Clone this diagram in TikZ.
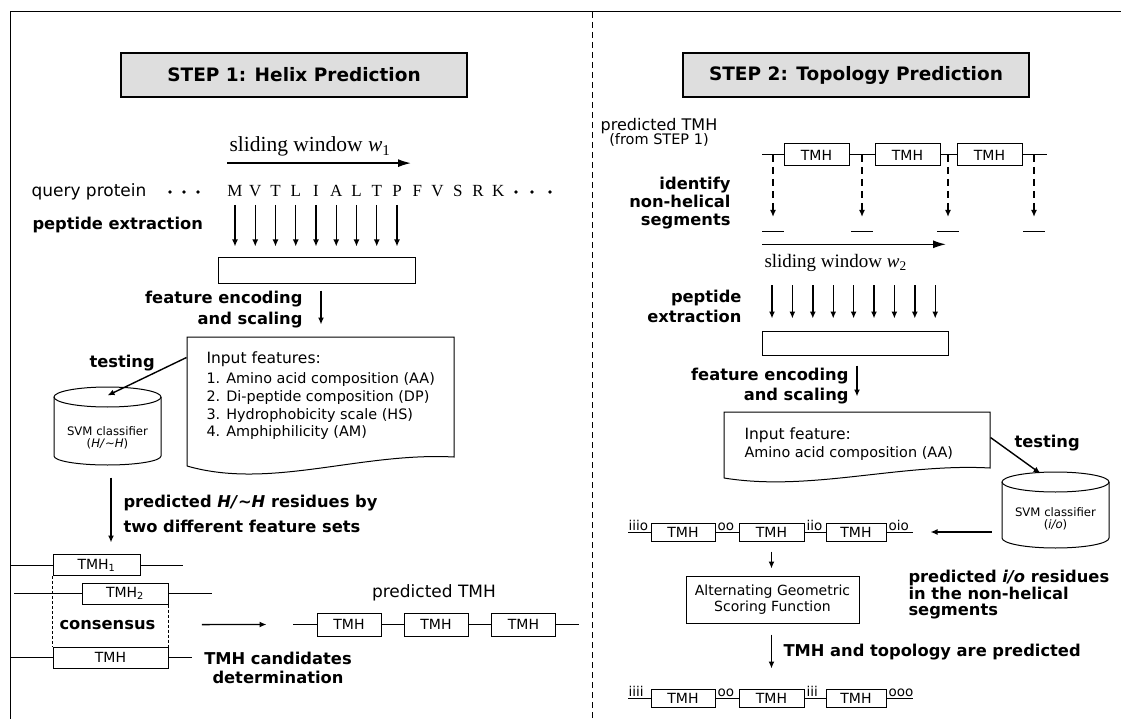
\documentclass[tikz,border=0pt]{standalone}
\usepackage{fontspec}
\setmainfont{DejaVu Sans}
\newfontfamily\seriffont{Liberation Serif}
\usetikzlibrary{arrows.meta,positioning}
\definecolor{stepgray}{RGB}{222,222,222}

\begin{document}
\begin{tikzpicture}[x=1pt, y=-1pt, line width=1pt,
    stepbox/.style={draw, line width=1.3pt, fill=stepgray, minimum width=346pt, minimum height=44pt, font=\fontsize{18.5}{20}\selectfont\bfseries},
    boldlbl/.style={font=\fontsize{16.3}{19}\selectfont\bfseries, inner sep=0pt},
    plaintxt/.style={font=\fontsize{15.5}{18}\selectfont, inner sep=0pt},
    smalltxt/.style={font=\fontsize{14.4}{17.8}\selectfont, inner sep=0pt},
    seqtxt/.style={font=\seriffont\fontsize{17}{18}\selectfont, inner sep=0pt},
    svmtxt/.style={font=\fontsize{11.7}{12.5}\selectfont, align=center, inner sep=0pt},
    iolbl/.style={font=\fontsize{13.5}{14}\selectfont, inner sep=0pt, anchor=base west},
    tmh/.style={draw, minimum height=21pt, inner sep=0pt, font=\fontsize{14}{14}\selectfont},
    arrow/.style={-{Latex[length=7pt,width=6pt]}, line width=1.4pt},
    winarrow/.style={-{Latex[length=13pt,width=8pt]}, line width=1.4pt},
    dasharrow/.style={arrow, dash pattern=on 7pt off 5pt}
]
    \useasboundingbox (0,0) rectangle (1121,719);

    % Frame and divider
    \draw (10,719) -- (10,12) -- (1121,12);
    \draw[dash pattern=on 6pt off 4pt] (592,12) -- (592,719);

    % ----- STEP 1 -----
    \node[stepbox] (step1) at (294,75) {STEP 1: Helix Prediction};

    % Sliding window and query sequence
    \node[seqtxt, font=\seriffont\fontsize{21.5}{22}\selectfont, anchor=base west] (win1) at (229,152) {sliding window \textit{w}\textsubscript{1}};
    \draw[winarrow] (win1.south west) ++(-2,6) -- ++(184,0);
    \node[plaintxt, font=\fontsize{17}{18}\selectfont, anchor=base west] (query) at (31,197) {query protein};
    \foreach \res [count=\i from 0] in {M,V,T,L,I,A,L,T,P,F,V,S,R,K}
        \node[seqtxt, anchor=base] (res\i) at (235+20.25*\i,197) {\res};
    \foreach \x in {170,184,198,516,532,550}
        \fill (\x,192) circle (1.8);

    % Peptide extraction
    \node[boldlbl, anchor=base west] (pepext1) at (32,230) {peptide extraction};
    \node[draw, minimum width=197pt, minimum height=25pt, inner sep=0pt] (pep1) at (316.5,270.5) {};
    \foreach \i in {0,...,8}
        \draw[arrow] ([yshift=-8pt]res\i.base) -- ([yshift=11pt]res\i.base |- pep1.north);

    % Feature encoding
    \node[boldlbl, align=right, anchor=north east, font=\fontsize{16.3}{21}\selectfont\bfseries] (enc1) at (303,290.6) {feature encoding\\and scaling};
    \node[minimum width=267pt, minimum height=129pt, inner sep=0pt] (doc1) at (320.5,401.5) {};
    \draw (187,466) -- (187,337) -- (454,337) -- (454,457) .. controls (360,452) and (270,490) .. (187,466);
    \draw[arrow] ([xshift=4.5pt,yshift=-7pt]pep1.south) -- ([xshift=0.5pt,yshift=12pt]doc1.north);
    \node[plaintxt, anchor=base west] (feat1) at (206,363) {Input features:};
    \node[smalltxt, align=left, anchor=north west] (featlist1) at (206,372) {1. Amino acid composition (AA)\\2. Di-peptide composition (DP)\\3. Hydrophobicity scale (HS)\\4. Amphiphilicity (AM)};

    % SVM classifier H/~H
    \node[minimum width=107pt, minimum height=78pt, inner sep=0pt] (svm1) at (107.5,426) {};
    \draw (54,397) -- (54,456) arc[start angle=180, end angle=0, x radius=53.5, y radius=9] -- (161,397);
    \draw (107.5,397) ellipse [x radius=53.5, y radius=10];
    \node[svmtxt] (svmtxt1) at (107.5,438) {SVM classifier\\(\textit{H/}\textasciitilde\textit{H})};
    \node[boldlbl, anchor=north west] (test1) at (89,355) {testing};
    \draw[arrow] ([yshift=-21pt]doc1.north west) -- ([yshift=-9pt]svm1.north);

    % Predicted residues
    \draw[arrow] ([xshift=3.5pt,yshift=-12pt]svm1.south) -- ++(0,65);
    \node[boldlbl, align=left, anchor=north west, font=\fontsize{16.3}{25}\selectfont\bfseries] (hres) at (123,495) {predicted \textit{H/}\textasciitilde\textit{H} residues by\\two different feature sets};

    % Consensus of the two feature sets
    \node[tmh, minimum width=87pt] (tmhA) at (96.5,565) {TMH\textsubscript{1}};
    \draw (tmhA.west) -- ++(-43,0);
    \draw (tmhA.east) -- ++(42,0);
    \node[tmh, minimum width=86pt] (tmhB) at (125,593.5) {TMH\textsubscript{2}};
    \draw (tmhB.west) -- ++(-68,0);
    \draw (tmhB.east) -- ++(43,0);
    \node[tmh, minimum width=115pt] (tmhC) at (110.5,657.5) {TMH};
    \draw (tmhC.west) -- ++(-43,0);
    \draw (tmhC.east) -- ++(23,0);
    \draw[dash pattern=on 3pt off 2pt] (tmhA.south west) -- (tmhC.north west);
    \draw[dash pattern=on 3pt off 2pt] (tmhB.south east) -- (tmhC.north east);
    \node[boldlbl, anchor=base west] (cons) at (59,629) {consensus};
    \node[boldlbl, align=center, anchor=north] (cand) at (278,652) {TMH candidates\\determination};

    % Predicted TMH of step 1
    \node[plaintxt, font=\fontsize{17}{18}\selectfont, anchor=base] (ptmh) at (434,597) {predicted TMH};
    \node[tmh, minimum width=64pt, minimum height=23pt] (pt1) at (349,624.5) {TMH};
    \node[tmh, minimum width=64pt, minimum height=23pt] (pt2) at (436,624.5) {TMH};
    \node[tmh, minimum width=64pt, minimum height=23pt] (pt3) at (523.5,624.5) {TMH};
    \draw (pt1.west) -- ++(-24,0);
    \draw (pt1) -- (pt2);
    \draw (pt2) -- (pt3);
    \draw (pt3.east) -- ++(23,0);
    \draw[arrow] ([xshift=46pt]cons.east) -- ([xshift=-50pt]pt1.west);

    % ----- STEP 2 -----
    \node[stepbox] (step2) at (856,75) {STEP 2: Topology Prediction};

    % Non-helical segments
    \node[plaintxt, font=\fontsize{16}{17}\selectfont, anchor=base] (pred2) at (659,131) {predicted TMH};
    \node[plaintxt, font=\fontsize{14.5}{15}\selectfont, anchor=base] (from1) at (659,145) {(from STEP 1)};
    \node[tmh, minimum width=65pt, minimum height=22pt] (ta) at (816.5,155) {TMH};
    \node[tmh, minimum width=65pt, minimum height=22pt] (tb) at (907.5,155) {TMH};
    \node[tmh, minimum width=65pt, minimum height=22pt] (tc) at (989.5,155) {TMH};
    \draw (ta.west) -- ++(-22,0);
    \draw (ta) -- (tb);
    \draw (tb) -- (tc);
    \draw (tc.east) -- ++(24,0);
    \foreach \x [count=\i] in {773,862,948,1034} {
        \coordinate (nh\i) at (\x,232);
        \draw ([xshift=-11pt]nh\i) -- ([xshift=11pt]nh\i);
        \draw[dasharrow] (nh\i |- ta.center) -- ([yshift=15pt]nh\i);
    }
    \node[boldlbl, align=right, anchor=north east, font=\fontsize{16.3}{18}\selectfont\bfseries] (ident) at (731,177) {identify\\non-helical\\segments};

    % Sliding window and peptide extraction
    \node[seqtxt, font=\seriffont\fontsize{19}{20}\selectfont, anchor=base west] (win2) at (764,268) {sliding window \textit{w}\textsubscript{2}};
    \draw[winarrow] (win2.north west) ++(-2,-10) -- ++(184,0);
    \node[draw, minimum width=186pt, minimum height=24pt, inner sep=0pt] (pep2) at (855,343) {};
    \foreach \i in {0,...,8} {
        \coordinate (ex\i) at (772+20.4*\i,285);
        \draw[arrow] (ex\i) -- ([yshift=12pt]ex\i |- pep2.north);
    }
    \node[boldlbl, align=right, anchor=north east, font=\fontsize{16.3}{20}\selectfont\bfseries] (pepext2) at (742,290) {peptide\\extraction};

    % Feature encoding
    \node[boldlbl, align=right, anchor=north east, font=\fontsize{16.3}{20}\selectfont\bfseries] (enc2) at (849,368) {feature encoding\\and scaling};
    \node[minimum width=266pt, minimum height=66pt, inner sep=0pt] (doc2) at (857,445) {};
    \draw (724,478) -- (724,412) -- (990,412) -- (990,468) .. controls (900,463) and (810,492) .. (724,478);
    \draw[arrow] ([xshift=2pt,yshift=-10pt]pep2.south) -- ([yshift=15pt]doc2.north);
    \node[plaintxt, anchor=base west] (feat2) at (744,439) {Input feature:};
    \node[smalltxt, anchor=base west] (featlist2) at (744,457) {Amino acid composition (AA)};

    % SVM classifier i/o
    \node[minimum width=107pt, minimum height=76pt, inner sep=0pt] (svm2) at (1055.5,510) {};
    \draw (1002,482) -- (1002,538) arc[start angle=180, end angle=0, x radius=53.5, y radius=10] -- (1109,482);
    \draw (1055.5,482) ellipse [x radius=53.5, y radius=10];
    \node[svmtxt] (svmtxt2) at (1055.5,519) {SVM classifier\\(\textit{i/o})};
    \node[boldlbl, anchor=north west] (test2) at (1014,435) {testing};
    \draw[arrow] ([yshift=-26pt]doc2.north east) -- ([xshift=-15pt,yshift=-2pt]svm2.north);

    % Predicted i/o residues
    \node[tmh, minimum width=64pt, minimum height=18pt] (ra1) at (683,532) {TMH};
    \node[tmh, minimum width=65pt, minimum height=18pt] (ra2) at (771.5,532) {TMH};
    \node[tmh, minimum width=60pt, minimum height=18pt] (ra3) at (856,532) {TMH};
    \draw (ra1.west) -- ++(-23,0);
    \draw (ra1) -- (ra2);
    \draw (ra2) -- (ra3);
    \draw (ra3.east) -- ++(26,0);
    \node[iolbl] (ioa1) at (628,530.5) {iiio};
    \node[iolbl] (ioa2) at (717,530.5) {oo};
    \node[iolbl] (ioa3) at (806,530.5) {iio};
    \node[iolbl] (ioa4) at (888,530.5) {oio};
    \draw[arrow] ([xshift=-10pt,yshift=-22pt]svm2.west) -- ([xshift=44pt]ra3.east);
    \node[boldlbl, align=left, anchor=north west, font=\fontsize{16.3}{16.5}\selectfont\bfseries] (iores) at (908,570) {predicted \textit{i/o} residues\\in the non-helical\\segments};

    % Scoring function
    \node[draw, minimum width=173pt, minimum height=47pt, align=center, font=\fontsize{14}{16}\selectfont] (agsf) at (772.5,599.5) {Alternating Geometric\\Scoring Function};
    \draw[arrow] ([yshift=-10pt]ra2.south) -- ([yshift=7pt]ra2.south |- agsf.north);

    % Final topology
    \node[tmh, minimum width=64pt, minimum height=18pt] (rb1) at (683,698) {TMH};
    \node[tmh, minimum width=65pt, minimum height=18pt] (rb2) at (771.5,698) {TMH};
    \node[tmh, minimum width=60pt, minimum height=18pt] (rb3) at (856,698) {TMH};
    \draw (rb1.west) -- ++(-23,0);
    \draw (rb1) -- (rb2);
    \draw (rb2) -- (rb3);
    \draw (rb3.east) -- ++(26,0);
    \node[iolbl] (iob1) at (628,696.5) {iiii};
    \node[iolbl] (iob2) at (717,696.5) {oo};
    \node[iolbl] (iob3) at (806,696.5) {iii};
    \node[iolbl] (iob4) at (888,696.5) {ooo};
    \draw[arrow] ([yshift=-11pt]rb2 |- agsf.south) -- ([yshift=20pt]rb2.north);
    \node[boldlbl, anchor=base west] (topo) at (783,656) {TMH and topology are predicted};
\end{tikzpicture}
\end{document}
